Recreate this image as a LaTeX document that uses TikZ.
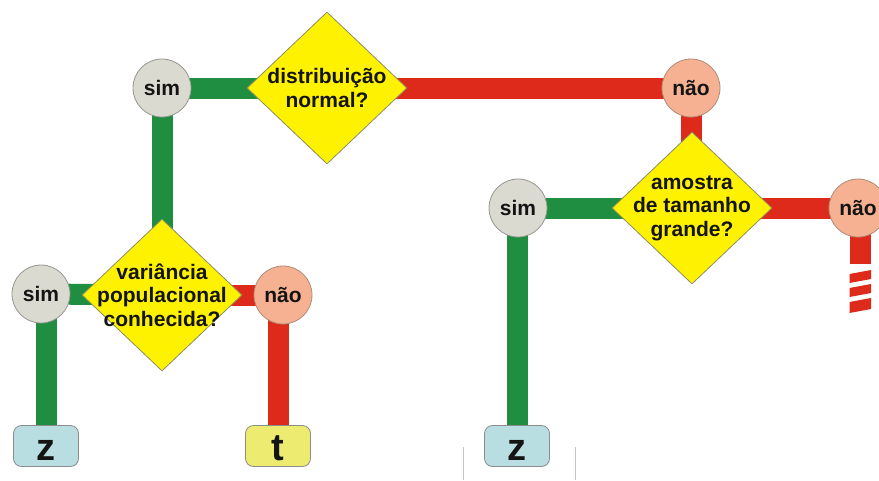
\documentclass[tikz,border=0pt]{standalone}
\usepackage{fontspec}
\setmainfont{Liberation Sans}
\usetikzlibrary{shapes.geometric,backgrounds}
\definecolor{barg}{RGB}{32,142,64}
\definecolor{barr}{RGB}{222,42,26}
\definecolor{diayellow}{RGB}{255,242,0}
\definecolor{diaborder}{RGB}{140,140,100}
\definecolor{simfill}{RGB}{218,218,208}
\definecolor{simborder}{RGB}{150,150,145}
\definecolor{naofill}{RGB}{246,176,146}
\definecolor{naoborder}{RGB}{175,140,120}
\definecolor{zfill}{RGB}{185,222,226}
\definecolor{tfill}{RGB}{238,236,112}
\definecolor{boxborder}{RGB}{140,140,140}
\definecolor{txt}{RGB}{20,20,20}
\begin{document}
\begin{tikzpicture}[x=1pt,y=-1pt,
  dia/.style={diamond,draw=diaborder,fill=diayellow,line width=0.8pt,minimum width=160pt,minimum height=152pt,inner sep=0pt},
  qtext/.style={font=\bfseries\fontsize{21}{23.5}\selectfont,align=center,text=txt},
  simc/.style={circle,draw=simborder,fill=simfill,line width=0.8pt,minimum size=58pt,inner sep=0pt,text=txt,font=\bfseries\fontsize{21}{24}\selectfont},
  naoc/.style={circle,draw=naoborder,fill=naofill,line width=0.8pt,minimum size=58pt,inner sep=0pt,text=txt,font=\bfseries\fontsize{21}{24}\selectfont},
  res/.style={rectangle,rounded corners=8pt,draw=boxborder,line width=0.8pt,minimum width=65pt,minimum height=41pt,inner sep=0pt,text height=28pt,text depth=0pt,text=txt,font=\bfseries\fontsize{38}{38}\selectfont},
  gbar/.style={draw=barg,line width=21pt},
  rbar/.style={draw=barr,line width=21pt}]
\useasboundingbox (0,0) rectangle (879,480);

% decision diamonds
\node[dia] (d1) at (327,88) {};
\node[qtext] at (d1) {distribuição\\normal?};
\node[dia] (d2) at (162,295) {};
\node[qtext] at (d2) {variância\\populacional\\conhecida?};
\node[dia] (d3) at (692,208) {};
\node[qtext] at (d3) {amostra\\de tamanho\\grande?};

% answer circles
\node[simc] (simT) at (162,88) {sim};
\node[naoc] (naoT) at (691,88) {não};
\node[simc] (simL) at (41,294) {sim};
\node[naoc] (naoL) at (283,295) {não};
\node[simc] (simR) at (518,208) {sim};
\node[naoc] (naoR) at (858,208) {não};

% results
\node[res,fill=zfill] (zL) at (46,446) {z};
\node[res,fill=tfill] (tB) at (278,446) {t};
\node[res,fill=zfill] (zR) at (517,446) {z};

\coordinate (rEnd) at (860,264);

\begin{scope}[on background layer]
  \draw[gbar] (simT.center) -- (d1.center);
  \draw[gbar] (simT.center) -- (d2.center);
  \draw[rbar] (d1.center) -- (naoT.center);
  \draw[rbar] (naoT.center) -- (naoT.center |- d3.center);
  \draw[gbar] (d2.center) -- (simL.center);
  \draw[gbar] (zL.center) -- (zL.center |- simL.center);
  \draw[rbar] (d2.center) -- (naoL.center);
  \draw[rbar] (tB.center) -- (tB.center |- naoL.center);
  \draw[gbar] (d3.center) -- (simR.center);
  \draw[gbar] (zR.center) -- (zR.center |- simR.center);
  \draw[rbar] (d3.center) -- (naoR.center);
  \draw[rbar] (rEnd |- naoR.center) -- (rEnd);
\end{scope}

% broken continuation below the right "não"
\fill[barr] (849.5,274) -- (871,270) -- (871,279) -- (849.5,283) -- cycle;
\fill[barr] (849.5,288) -- (871,284) -- (871,293) -- (849.5,297) -- cycle;
\fill[barr] (849.5,302) -- (871,298) -- (871,309) -- (849.5,313) -- cycle;

% faint bracket marks
\draw[gray!45,line width=0.8pt] (463,447) -- (463,480);
\draw[gray!45,line width=0.8pt] (575,447) -- (575,480);
\end{tikzpicture}
\end{document}
